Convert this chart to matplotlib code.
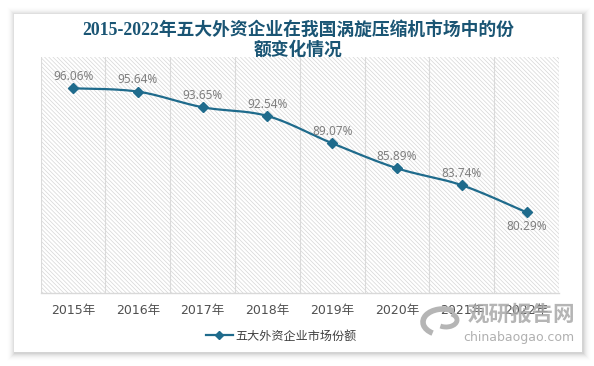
import numpy as np
import matplotlib
matplotlib.use("Agg")
import matplotlib.pyplot as plt
from matplotlib.patches import Rectangle, Arc
from matplotlib.lines import Line2D

years = ["2015年", "2016年", "2017年", "2018年", "2019年", "2020年", "2021年", "2022年"]
share = [96.06, 95.64, 93.65, 92.54, 89.07, 85.89, 83.74, 80.29]
series_name = "五大外资企业市场份额"
title_line1 = "2015-2022年五大外资企业在我国涡旋压缩机市场中的份"
title_line2 = "额变化情况"

W, H = 594, 366
plt.rcParams["hatch.linewidth"] = 0.5
plt.rcParams["hatch.color"] = "#d6d6d6"
fig = plt.figure(figsize=(W / 100, H / 100), dpi=100)
fig.patch.set_facecolor("white")

def fx(px):
    return px / W

def fy(py):
    return 1 - py / H

# card shadow
cx0, cy0, cx1, cy1 = 14, 14, 581.5, 351.5
for i, a in enumerate([0.045, 0.035, 0.028, 0.022, 0.016, 0.011, 0.007, 0.004]):
    d = i + 1
    fig.patches.append(Rectangle((fx(cx0 - d + 1), fy(cy1 + d + 1)), fx(cx1 - cx0 + 2 * d), (cy1 - cy0 + 2 * d) / H,
                                 transform=fig.transFigure, facecolor="black", alpha=a,
                                 edgecolor="none", zorder=-3))
fig.patches.append(Rectangle((fx(cx0), fy(cy1)), fx(cx1 - cx0), (cy1 - cy0) / H,
                             transform=fig.transFigure, facecolor="white", edgecolor="none", zorder=-2))

CJK = ["Noto Sans CJK SC", "DejaVu Sans"]

# axes
l, r, t, b = 40.7, 559, 57.3, 293.3
ax = fig.add_axes([fx(l), fy(b), fx(r - l), (b - t) / H])
ax.set_facecolor("none")
ax.set_xlim(-0.5, len(years) - 0.5)
ax.set_ylim(70, 100)

ax.add_patch(Rectangle((0, 0), 1, 1, transform=ax.transAxes, facecolor="white",
                       edgecolor="#d6d6d6", hatch="\\" * 8, linewidth=0, zorder=0))

for s in ["top", "right", "left"]:
    ax.spines[s].set_visible(False)
ax.spines["bottom"].set_color("#d9d9d9")
ax.spines["bottom"].set_linewidth(1.0)
ax.set_yticks([])
x = np.arange(len(years))
ax.set_xticks(x)
ax.set_xticklabels(years, family=["DejaVu Sans", "Noto Sans CJK SC"], fontsize=9, color="#505050")
ax.tick_params(axis="x", length=0, pad=8)
ax.set_xticks(np.arange(-0.5, len(years), 1.0), minor=True)
ax.tick_params(axis="x", which="minor", length=0)
ax.grid(True, which="minor", axis="x", color="#dadada", linewidth=0.8, zorder=1)

# smoothed line (cardinal spline through the data points)
def smooth(xs, ys, n=30, tension=0.5):
    xs = np.asarray(xs, float); ys = np.asarray(ys, float)
    px = np.concatenate([[xs[0]], xs, [xs[-1]]])
    py = np.concatenate([[ys[0]], ys, [ys[-1]]])
    outx, outy = [], []
    for i in range(1, len(px) - 2):
        p0, p1, p2, p3 = (np.array([px[j], py[j]]) for j in (i - 1, i, i + 1, i + 2))
        m1 = (p2 - p0) * tension
        m2 = (p3 - p1) * tension
        tt = np.linspace(0, 1, n)
        h00 = 2 * tt**3 - 3 * tt**2 + 1
        h10 = tt**3 - 2 * tt**2 + tt
        h01 = -2 * tt**3 + 3 * tt**2
        h11 = tt**3 - tt**2
        pts = np.outer(h00, p1) + np.outer(h10, m1) + np.outer(h01, p2) + np.outer(h11, m2)
        outx.extend(pts[:, 0]); outy.extend(pts[:, 1])
    return np.array(outx), np.array(outy)

sx, sy = smooth(x, share)
color = "#1f6b8c"
ax.plot(sx, sy, color=color, linewidth=1.6, zorder=3, solid_capstyle="round")
ax.plot(x, share, linestyle="none", marker="D", markersize=5.5, color=color, zorder=4)

for i, v in enumerate(share):
    dy = -10.5 if i == len(share) - 1 else 8.5
    ax.annotate(f"{v:.2f}%", (i, v), xytext=(0, dy), textcoords="offset points",
                ha="center", va="center", fontsize=8.5, color="#7f7f7f", family="Noto Sans", zorder=5)

# title
fig.text(fx(298), fy(30), title_line1,
         ha="center", va="center", fontsize=12.8, fontweight="bold", color="#1a5574",
         family=["Liberation Serif", "Noto Sans CJK SC"])
fig.text(fx(298), fy(50), title_line2,
         ha="center", va="center", fontsize=12.8, fontweight="bold", color="#1a5574",
         family=["Noto Sans CJK SC"])

# legend
handle = Line2D([], [], color=color, linewidth=1.6, marker="D", markersize=4)
fig.legend([handle], [series_name], loc="center", bbox_to_anchor=(fx(281), fy(336)),
           frameon=False, prop={"family": CJK, "size": 8.7}, handlelength=2.3,
           handletextpad=0.15, labelcolor="#404040")

# watermark
wm = "#a8a8a8"
fig.text(fx(521), fy(314), "观研报告网", ha="center", va="center", fontsize=15.5,
         fontweight="bold", color=wm, family=CJK, alpha=0.85, zorder=6)
fig.text(fx(519), fy(337), "chinabaogao.com", ha="center", va="center", fontsize=9,
         color=wm, family="DejaVu Sans", alpha=0.9, zorder=6)
fig.patches.append(Arc((fx(443), fy(322)), 40 / W, 26 / H, theta1=60, theta2=240,
                       transform=fig.transFigure, color="#b5b5b5", linewidth=4, zorder=6))
fig.patches.append(Arc((fx(446), fy(320)), 22 / W, 14 / H, theta1=240, theta2=420,
                       transform=fig.transFigure, color="#b5b5b5", linewidth=3.5, zorder=6))

fig.savefig("out.png", dpi=100, facecolor="white")
